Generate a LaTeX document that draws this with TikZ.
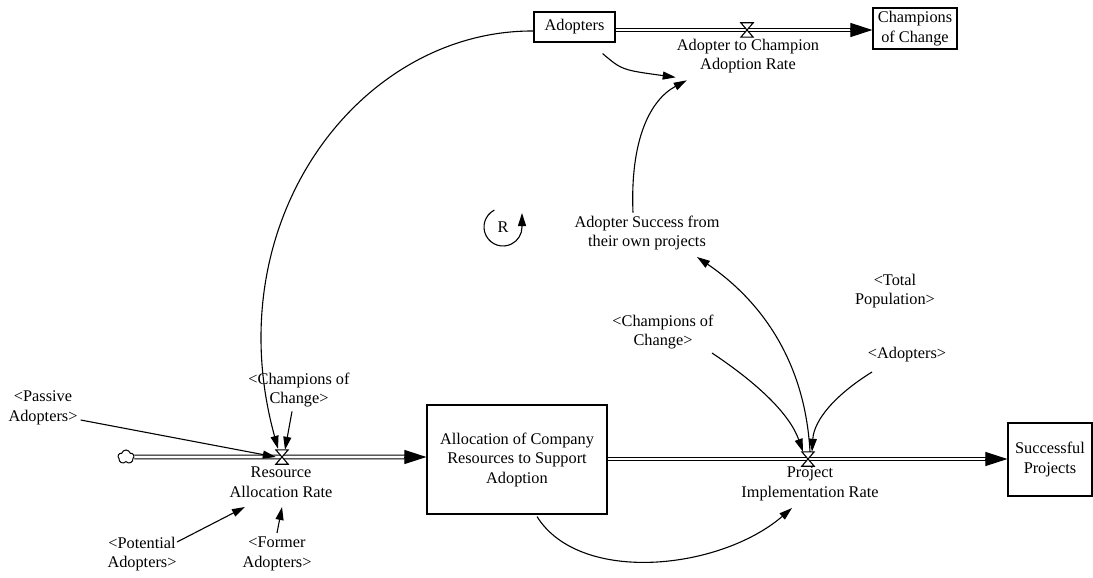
\documentclass[tikz,border=0pt]{standalone}
\usepackage{fontspec}
\setmainfont{Liberation Serif}
\usetikzlibrary{arrows.meta,calc,shapes.symbols}
\begin{document}
\begin{tikzpicture}[x=1pt,y=-1pt,
  txt/.style={align=center, font=\fontsize{16.3}{19.5}\selectfont, inner sep=1pt},
  stock/.style n args={2}{txt, draw, line width=1.2pt, inner sep=0pt,
    minimum width=#1, minimum height=#2},
  valve/.style={minimum width=12pt, minimum height=14pt, inner sep=0pt},
  valveline/.style={draw, fill=white, line width=1.1pt, line join=miter},
  pipe/.style={draw, line width=1.1pt, double=white, double distance=2.6pt},
  flowtip/.style={line width=1pt, -{Triangle[length=22pt,width=14pt]}},
  info/.style={line width=1.1pt, -{Triangle[length=13pt,width=8pt]}}
]
\useasboundingbox (0,0) rectangle (1093,578);

% stocks
\node[stock={81pt}{30pt}] (adopters) at (574.5,27) {Adopters};
\node[stock={84pt}{41pt}] (champ) at (915,28.5) {Champions\\of Change};
\node[stock={180pt}{109pt}] (alloc) at (517,459.5) {Allocation of Company\\Resources to Support\\Adoption};
\node[stock={84pt}{73pt}] (succ) at (1050,459.5) {Successful\\Projects};

% source cloud
\node[cloud, draw, fill=white, cloud puffs=5, cloud puff arc=150, aspect=1.1,
      minimum width=16pt, minimum height=14pt, inner sep=0pt, line width=1pt] (cloud) at (126,457) {};

% valves and rate labels
\node[valve] (v1) at (747,30) {};
\node[txt] (v1lbl) at (748,56) {Adopter to Champion\\Adoption Rate};
\node[valve] (v2) at (282,457) {};
\node[txt] (v2lbl) at (281,482) {Resource\\Allocation Rate};
\node[valve] (v3) at (808,459) {};
\node[txt] (v3lbl) at (810,484) {Project\\Implementation Rate};

% auxiliaries and shadow variables
\node[txt] (success) at (647,233) {Adopter Success from\\their own projects};
\node[txt] (passive) at (43,408) {<Passive\\Adopters>};
\node[txt] (champsA) at (299,390) {<Champions of\\Change>};
\node[txt] (potential) at (142,554) {<Potential\\Adopters>};
\node[txt] (former) at (277,554) {<Former\\Adopters>};
\node[txt] (champsB) at (663,332) {<Champions of\\Change>};
\node[txt] (total) at (895,291) {<Total\\Population>};
\node[txt] (adoptersB) at (907,355) {<Adopters>};

% flow pipes
\draw[pipe] (adopters.east |- v1) -- ($(champ.west |- v1)+(-21,0)$);
\draw[flowtip] ($(champ.west |- v1)+(-22,0)$) -- (champ.west |- v1);
\draw[pipe] (cloud.east) -- ($(alloc.west |- v2)+(-21,0)$);
\draw[flowtip] ($(alloc.west |- v2)+(-22,0)$) -- (alloc.west |- v2);
\draw[pipe] (alloc.east |- v3) -- ($(succ.west |- v3)+(-21,0)$);
\draw[flowtip] ($(succ.west |- v3)+(-22,0)$) -- (succ.west |- v3);

% valve symbols
\foreach \v in {v1,v2,v3}
  \draw[valveline] (\v.north west) -- (\v.north east) -- (\v.south west) -- (\v.south east) -- cycle;

% information links
\draw[info] ([shift={(-13,11)}]adopters.south east) .. controls (622,70) .. ([shift={(0,3)}]v1lbl.south west);
\draw[info] ([shift={(-14,-2)}]success.north) .. controls (630,140) and (650,100) .. ([shift={(11,6)}]v1lbl.south west);
\draw[info] ([shift={(0,4)}]adopters.west) .. controls (360,30) and (215,220) .. ([shift={(-4,-1)}]v2.north);
\draw[info] ([shift={(2,12)}]passive.east) -- (v2.west);
\draw[info] ([shift={(-7,3)}]champsA.south) -- ([shift={(3,0)}]v2.north);
\draw[info] ([shift={(35,-12)}]potential.center) -- ([shift={(-36,25)}]v2lbl.center);
\draw[info] ([shift={(0,-21)}]former.center) -- ([shift={(1,25)}]v2lbl.center);
\draw[info] ([shift={(20,2)}]alloc.south) .. controls (580,585) and (720,570) .. ([shift={(-18,24)}]v3lbl.center);
\draw[info] ([shift={(49,21)}]champsB.center) .. controls (760,385) and (790,415) .. ([shift={(-5,0)}]v3.north);
\draw[info] ([shift={(2,0)}]v3.north) .. controls (805,360) and (760,300) .. ([shift={(50,24)}]success.center);
\draw[info] ([shift={(-35,17)}]adoptersB.center) .. controls (835,395) and (814,420) .. ([shift={(4,0)}]v3.north);

% reinforcing loop marker
\node[txt] (loopR) at (503,227) {R};
\draw[info] ([shift={(-117:19)}]loopR.center) arc[start angle=-117, end angle=-360, radius=19] -- ++(0,-14);
\end{tikzpicture}
\end{document}
